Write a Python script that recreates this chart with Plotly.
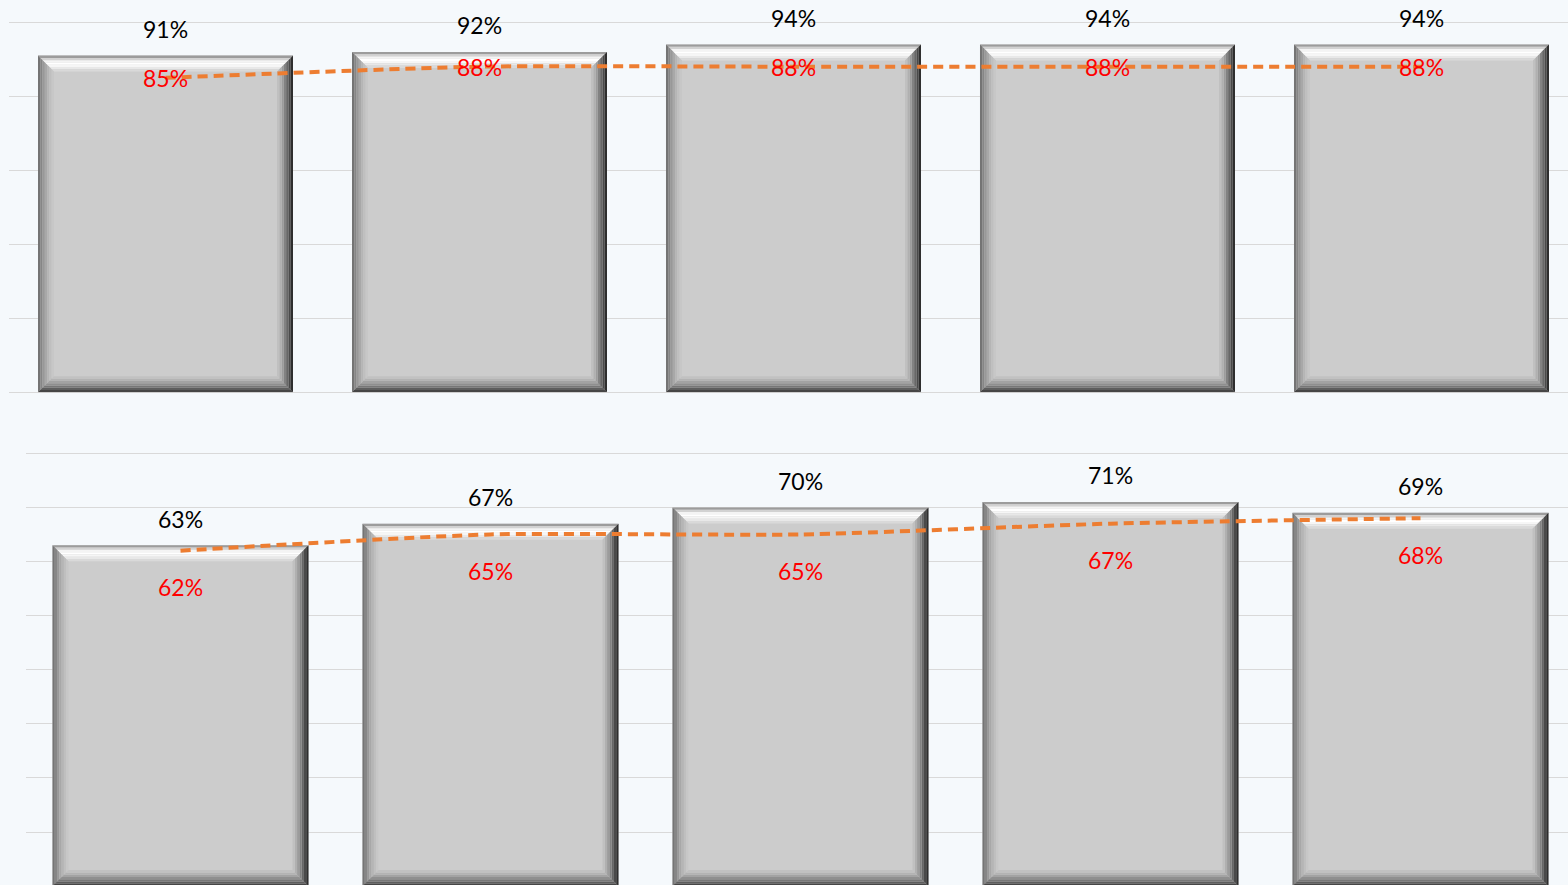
import plotly.graph_objects as go

# Upper panel: bar values and dashed target line (percent)
upper_bars = [91, 92, 94, 94, 94]
upper_line = [85, 88, 88, 88, 88]

# Lower panel: bar values and dashed target line (percent)
lower_bars = [63, 67, 70, 71, 69]
lower_line = [62, 65, 65, 67, 68]

BG = "#F5F9FC"
GRID = "#D9D9D9"
BAR_FACE = "#CCCCCC"
LINE_COLOR = "#ED7D31"
FONT = "Lato, Calibri, Carlito, 'Open Sans', sans-serif"

W, H = 1568, 885

# Bevel shading bands, outer edge -> inner face
BEVEL = {
    "top":    ["#9c9c9c", "#d2d2d2", "#f4f4f4", "#ffffff", "#f6f6f6", "#e8e8e8", "#d9d9d9"],
    "left":   ["#747474", "#868686", "#989898", "#a8a8a8", "#b5b5b5", "#bfbfbf", "#c7c7c7"],
    "right":  ["#2e2e2e", "#4a4a4a", "#676767", "#828282", "#9c9c9c", "#b0b0b0", "#c0c0c0"],
    "bottom": ["#464646", "#5e5e5e", "#777777", "#8f8f8f", "#a3a3a3", "#b3b3b3", "#c1c1c1"],
}

fig = go.Figure()


def add_panel(bars, line, xa, ya, bar_w, px_per_cat, px_per_unit, red_shift):
    xs = list(range(len(bars)))
    fig.add_trace(go.Bar(
        x=xs, y=bars, width=bar_w, marker=dict(color=BAR_FACE, line=dict(width=0)),
        xaxis=xa, yaxis=ya, showlegend=False, hoverinfo="skip",
    ))
    # bevel frame drawn in data units, ~16 px deep
    bx = 16 / px_per_cat
    by = 16 / px_per_unit
    n = len(BEVEL["top"])
    for side, colors in BEVEL.items():
        for k, col in enumerate(colors):
            t0, t1 = k / n, (k + 1) / n
            px, py = [], []
            for x, v in zip(xs, bars):
                x0, x1 = x - bar_w / 2, x + bar_w / 2
                if side == "top":
                    pts = [(x0 + bx * t0, v - by * t0), (x1 - bx * t0, v - by * t0),
                           (x1 - bx * t1, v - by * t1), (x0 + bx * t1, v - by * t1)]
                elif side == "bottom":
                    pts = [(x0 + bx * t0, by * t0), (x1 - bx * t0, by * t0),
                           (x1 - bx * t1, by * t1), (x0 + bx * t1, by * t1)]
                elif side == "left":
                    pts = [(x0 + bx * t0, by * t0), (x0 + bx * t0, v - by * t0),
                           (x0 + bx * t1, v - by * t1), (x0 + bx * t1, by * t1)]
                else:
                    pts = [(x1 - bx * t0, by * t0), (x1 - bx * t0, v - by * t0),
                           (x1 - bx * t1, v - by * t1), (x1 - bx * t1, by * t1)]
                pts.append(pts[0])
                px += [p[0] for p in pts] + [None]
                py += [p[1] for p in pts] + [None]
            fig.add_trace(go.Scatter(
                x=px, y=py, mode="lines", fill="toself", fillcolor=col,
                line=dict(width=0, color=col), xaxis=xa, yaxis=ya,
                showlegend=False, hoverinfo="skip",
            ))
    fig.add_trace(go.Scatter(
        x=xs, y=line, mode="lines",
        line=dict(color=LINE_COLOR, width=4, dash="10px,6px", shape="spline", smoothing=0.6),
        xaxis=xa, yaxis=ya, showlegend=False, hoverinfo="skip",
    ))
    xref = "x" if xa == "x" else "x2"
    yref = "y" if ya == "y" else "y2"
    for x, v in zip(xs, bars):
        fig.add_annotation(x=x, y=v, xref=xref, yref=yref, text=f"{v}%", showarrow=False,
                           yshift=26.5, yanchor="middle",
                           font=dict(family=FONT, size=23, color="#000000"))
    for x, v in zip(xs, line):
        fig.add_annotation(x=x, y=v, xref=xref, yref=yref, text=f"{v}%", showarrow=False,
                           yshift=red_shift, yanchor="middle",
                           font=dict(family=FONT, size=23, color="#FF0000"))


add_panel(upper_bars, upper_line, "x", "y", 255 / 314, 314, 3.70, 0)
add_panel(lower_bars, lower_line, "x2", "y2", 256 / 310, 310, 5.41, -36.5)

axis_x = dict(showgrid=False, showticklabels=False, zeroline=False, showline=False, ticks="")
axis_y = dict(showgrid=True, gridcolor=GRID, gridwidth=1, showticklabels=False,
              zeroline=True, zerolinecolor=GRID, zerolinewidth=1, showline=False, ticks="",
              tick0=0)

# panel geometry: upper 0% at y=392.3 px, 3.70 px per unit; lower 0% at 886.1 px, 5.41 px per unit
up_top_px, up_bot_px = 0.0, 392.3
lo_top_px = 440.0

fig.update_layout(
    width=W, height=H, autosize=False,
    margin=dict(l=0, r=0, t=0, b=0, pad=0),
    paper_bgcolor=BG, plot_bgcolor=BG,
    barmode="overlay", showlegend=False,
    xaxis=dict(axis_x, domain=[8.5 / W, 1], range=[-0.5, 4.4666], anchor="y"),
    yaxis=dict(axis_y, domain=[(H - up_bot_px) / H, 1], tickvals=[0, 20, 40, 60, 80, 100],
               range=[0, (up_bot_px - up_top_px) / 3.70], anchor="x"),
    xaxis2=dict(axis_x, domain=[25.5 / W, 1], range=[-0.5, 4.4758], anchor="y2"),
    yaxis2=dict(axis_y, domain=[0, (H - lo_top_px) / H], tickvals=[10, 20, 30, 40, 50, 60, 70, 80],
                range=[(886.1 - H) / 5.41, (886.1 - lo_top_px) / 5.41], anchor="x2"),
)

fig.write_html("out.html")
